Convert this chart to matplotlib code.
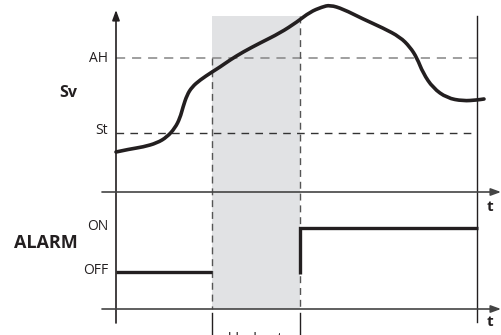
import matplotlib
matplotlib.use("Agg")
import matplotlib.pyplot as plt
from matplotlib.path import Path
from matplotlib.patches import PathPatch

plt.rcParams['font.family'] = ['Open Sans', 'DejaVu Sans']

# Sv signal (time, value)
sv_time = [0, 14, 27, 41, 51, 59, 64, 67, 71, 76, 84, 96, 104, 114, 127, 144,
           164, 181, 194, 206, 214, 227, 247, 267, 284, 294, 301, 307, 317,
           331, 347, 361, 368]
sv_value = [157, 160, 162, 166, 172, 181, 191, 202, 214, 222, 229, 237, 242,
            249, 257, 266, 276, 287, 297, 302, 304, 300, 290, 281, 272, 262,
            251, 236, 221, 211, 208, 209, 210]

# thresholds
level_ah = 251
level_st = 176
level_labels = ["AH", "St"]

# alarm output
alarm_off_time = [0, 96]
alarm_on_time = [184, 184, 362]
alarm_off = 37
alarm_on = 81
alarm_jump_start = 35

# blackout window
blackout_start = 96
blackout_end = 184
blackout_top = 293
t_end = 361

sv_axis = 117
alarm_axis = 0

ink = "#231f20"

fig = plt.figure(figsize=(5.02, 3.35), dpi=100)
ax = fig.add_axes([0, 0, 1, 1])
ax.set_xlim(-116, 386)
ax.set_ylim(-26, 309)
ax.axis("off")

# grey blackout band
ax.fill_between([blackout_start, blackout_end], alarm_axis, blackout_top,
                color="#e1e2e4", lw=0, zorder=0)

# threshold lines
ax.plot([0, t_end], [level_ah, level_ah], color="#858585", lw=1.1,
        dashes=(6, 4.5), zorder=1)
ax.plot([0, t_end], [level_st, level_st], color="#333333", lw=1.0,
        dashes=(5.5, 4.5), zorder=1)

# blackout borders
ax.plot([blackout_start, blackout_start], [level_ah, alarm_axis], color="#555555",
        lw=1.0, dashes=(5, 3.5), zorder=1)
ax.plot([blackout_end, blackout_end], [blackout_top, alarm_axis], color="#555555",
        lw=1.0, dashes=(5, 3.5), zorder=1)
ax.plot([blackout_start, blackout_start], [-4, -26], color=ink, lw=1.0)
ax.plot([blackout_end, blackout_end], [-4, -26], color=ink, lw=1.0)
ax.text((blackout_start + blackout_end) / 2, -23, "blackout", ha="center",
        va="top", fontsize=10, color=ink)

# end line
ax.plot([t_end, t_end], [blackout_top, -13], color=ink, lw=1.0)

# axes with arrows
arrow = dict(arrowstyle="-|>,head_length=0.6,head_width=0.22", color=ink,
             lw=1.2, shrinkA=0, shrinkB=0)
ax.annotate("", xy=(0, 299), xytext=(0, -14), arrowprops=arrow)
ax.annotate("", xy=(385, sv_axis), xytext=(-14, sv_axis),
            arrowprops=dict(arrow, color="#444444"))
ax.annotate("", xy=(385, alarm_axis), xytext=(-14, alarm_axis),
            arrowprops=dict(arrow, color="#444444"))

# Sv signal drawn as a smooth path (points act as quadratic control points)
pts = list(zip(sv_time, sv_value))
verts = [pts[0]]
codes = [Path.MOVETO]
for i in range(1, len(pts) - 1):
    mid = ((pts[i][0] + pts[i + 1][0]) / 2, (pts[i][1] + pts[i + 1][1]) / 2)
    verts += [pts[i], mid]
    codes += [Path.CURVE3, Path.CURVE3]
verts.append(pts[-1])
codes.append(Path.LINETO)
ax.add_patch(PathPatch(Path(verts, codes), facecolor="none", edgecolor=ink,
                       lw=2.6, capstyle="round", joinstyle="round", zorder=3))

# alarm output
ax.plot(alarm_off_time, [alarm_off, alarm_off], color=ink, lw=2.4,
        solid_capstyle="butt", zorder=3)
ax.plot(alarm_on_time, [alarm_jump_start, alarm_on, alarm_on], color=ink,
        lw=2.4, solid_capstyle="butt", solid_joinstyle="miter", zorder=3)

# labels
ax.text(-8, level_ah, level_labels[0], ha="right", va="center", fontsize=10,
        color=ink)
ax.text(-8, level_st + 3, level_labels[1], ha="right", va="center",
        fontsize=10, color=ink)
ax.text(-48, 216, "Sv", ha="center", va="center", fontsize=11.5,
        fontweight="bold", color=ink)
ax.text(-70, 66, "ALARM", ha="center", va="center", fontsize=13,
        fontweight="bold", color=ink)
ax.text(-8, alarm_on + 1, "ON", ha="right", va="center", fontsize=10,
        color=ink)
ax.text(-8, alarm_off + 2, "OFF", ha="right", va="center", fontsize=10,
        color=ink)
ax.text(374, sv_axis - 15, "t", ha="center", va="center", fontsize=11,
        fontweight="bold", color=ink)
ax.text(374, alarm_axis - 13, "t", ha="center", va="center", fontsize=11,
        fontweight="bold", color=ink)

fig.savefig("out.png", dpi=100)
